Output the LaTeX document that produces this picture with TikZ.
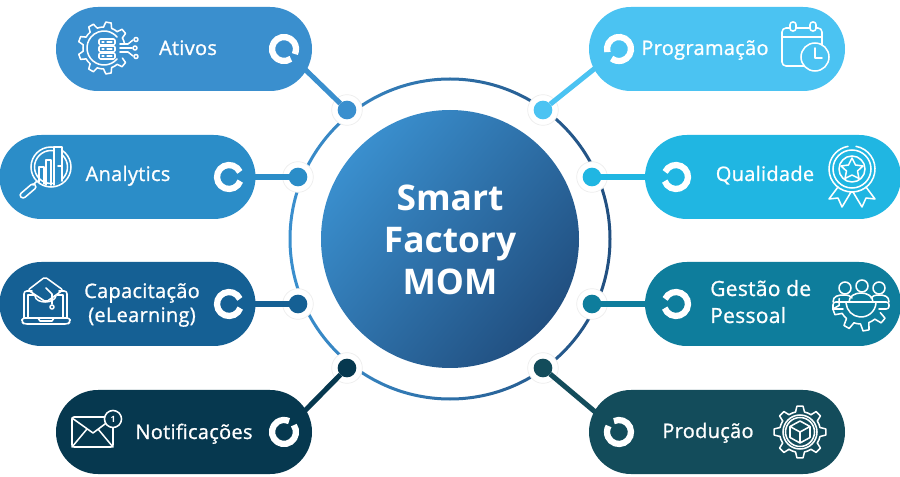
\documentclass[tikz,border=0pt]{standalone}
\usepackage{fontspec}
\setmainfont{Open Sans}
\newfontfamily\labelfont[FakeBold=1,LetterSpace=1.5]{Open Sans}
\pgfdeclarelayer{back}\pgfdeclarelayer{mid}
\pgfsetlayers{back,mid,main}
\definecolor{cAt}{HTML}{3A8FCE}\definecolor{cAn}{HTML}{2B8DC8}
\definecolor{cCa}{HTML}{156094}\definecolor{cNo}{HTML}{06384F}
\definecolor{cPr}{HTML}{4BC3F2}\definecolor{cQu}{HTML}{20B6E2}
\definecolor{cGe}{HTML}{0E7D9C}\definecolor{cPd}{HTML}{134C5B}
\definecolor{cDk}{HTML}{214F80}
\tikzset{
 pill/.style={rounded corners=31.5pt,minimum width=192pt,minimum height=63pt,inner sep=0pt,outer sep=0pt},
 lab/.style={text=white,inner sep=0pt,anchor=base,font=\labelfont\fontsize{15}{15}\selectfont},
 labw/.style={text=white,inner sep=0pt,anchor=base west,font=\labelfont\fontsize{15.7}{15.7}\selectfont},
 ttl/.style={text=white,inner sep=0pt,anchor=base,font=\bfseries\fontsize{26.5}{26.5}\selectfont},
 halo/.style={circle,fill=white,draw=black!7,line width=.5pt,minimum size=23pt,inner sep=0pt},
 dotn/.style={circle,minimum size=14pt,inner sep=0pt,outer sep=0pt},
 glyph/.style={circle,minimum size=9pt,inner sep=0pt},
 conn/.style={line width=3.8pt},
 icon/.style={draw=white,line width=1.15pt,line cap=round,line join=round},
 ringarc/.style={draw=white,line width=4.7pt}
}
% gear: cx cy R r teeth first last
\newcommand{\gearteeth}[7]{%
 \pgfmathsetmacro{\gs}{360/#5}%
 \foreach \gi in {#6,...,#7}{%
  \pgfmathsetmacro{\ga}{\gi*\gs}%
  \draw[icon,shift={(#1,#2)}] (\ga-.28*\gs:#4) -- (\ga-.15*\gs:#3) -- (\ga+.15*\gs:#3) -- (\ga+.28*\gs:#4) arc[start angle=\ga+.28*\gs,delta angle=.44*\gs,radius=#4];
 }}
\begin{document}
\begin{tikzpicture}[x=.75pt,y=-.75pt]
\useasboundingbox (0,0) rectangle (900,477);
% central disc
\shade[left color=cAt,right color=cDk,shading angle=50] (450,239) circle (129);
\node[ttl] (t1) at (450,211) {Smart};
\node[ttl] (t2) at (450,253) {Factory};
\node[ttl] (t3) at (450,295) {MOM};
% outer ring
\begin{pgfonlayer}{back}
\fill[white] (0,0) rectangle (900,477);
\shade[left color=cAt,right color=cDk,even odd rule] (450,239) circle (161.5) (450,239) circle (158.5);
\node[halo] (hAt) at (347,110) {};
\node[halo] (hAn) at (298,177) {};
\node[halo] (hCa) at (298,304) {};
\node[halo] (hNo) at (347,368) {};
\node[halo] (hPr) at (543,110) {};
\node[halo] (hQu) at (592,177) {};
\node[halo] (hGe) at (592,304) {};
\node[halo] (hPd) at (543,368) {};
\end{pgfonlayer}
% pills
\node[pill,fill=cAt] (pAt) at (184,49) {};
\node[pill,fill=cAn] (pAn) at (127.5,177) {};
\node[pill,fill=cCa] (pCa) at (127.5,304) {};
\node[pill,fill=cNo] (pNo) at (184,432) {};
\node[pill,fill=cPr] (pPr) at (717,49) {};
\node[pill,fill=cQu] (pQu) at (773,177) {};
\node[pill,fill=cGe] (pGe) at (773,304) {};
\node[pill,fill=cPd] (pPd) at (717,432) {};
% dots
\node[dotn,fill=cAt] (dAt) at (347,110) {};
\node[dotn,fill=cAn] (dAn) at (298,177) {};
\node[dotn,fill=cCa] (dCa) at (298,304) {};
\node[dotn,fill=cNo] (dNo) at (347,368) {};
\node[dotn,fill=cPr] (dPr) at (543,110) {};
\node[dotn,fill=cQu] (dQu) at (592,177) {};
\node[dotn,fill=cGe] (dGe) at (592,304) {};
\node[dotn,fill=cPd] (dPd) at (543,368) {};
% ring glyph anchors
\node[glyph] (gAt) at (284,49) {};
\node[glyph] (gAn) at (229,177) {};
\node[glyph] (gCa) at (229,304) {};
\node[glyph] (gNo) at (284,432) {};
\node[glyph] (gPr) at (619,49) {};
\node[glyph] (gQu) at (676,177) {};
\node[glyph] (gGe) at (676,304) {};
\node[glyph] (gPd) at (619,432) {};
\begin{pgfonlayer}{mid}
\draw[conn,cAt] (gAt) -- (dAt);
\draw[conn,cAn] (gAn) -- (dAn);
\draw[conn,cCa] (gCa) -- (dCa);
\draw[conn,cNo] (gNo) -- (dNo);
\draw[conn,cPr] (gPr) -- (dPr);
\draw[conn,cQu] (gQu) -- (dQu);
\draw[conn,cGe] (gGe) -- (dGe);
\draw[conn,cPd] (gPd) -- (dPd);
\end{pgfonlayer}
% ring glyphs: screen angles, clockwise
\draw[ringarc] ([shift={(284,49)}]55:12) arc[start angle=55,end angle=385,radius=12];
\draw[ringarc] ([shift={(229,177)}]20:12) arc[start angle=20,end angle=335,radius=12];
\draw[ringarc] ([shift={(229,304)}]20:12) arc[start angle=20,end angle=335,radius=12];
\draw[ringarc] ([shift={(284,432)}]-35:12) arc[start angle=-35,end angle=295,radius=12];
\draw[ringarc] ([shift={(619,49)}]-195:12) arc[start angle=-195,end angle=128,radius=12];
\draw[ringarc] ([shift={(676,177)}]-155:12) arc[start angle=-155,end angle=160,radius=12];
\draw[ringarc] ([shift={(676,304)}]-155:12) arc[start angle=-155,end angle=160,radius=12];
\draw[ringarc] ([shift={(619,432)}]-115:12) arc[start angle=-115,end angle=210,radius=12];
% labels
\node[lab] (lAt) at (188,55) {Ativos};
\node[lab] (lAn) at (128,181) {Analytics};
\node[lab] (lCa) at (142,298) {Capacitação};
\node[lab] (lCb) at (142,322) {(eLearning)};
\node[lab] (lNo) at (194,439) {Notificações};
\node[lab] (lPr) at (705,55) {Programação};
\node[lab] (lQu) at (765,181) {Qualidade};
\node[labw] (lGa) at (710,296) {Gestão de};
\node[labw] (lGb) at (710,323) {Pessoal};
\node[lab] (lPd) at (708,438) {Produção};
% --- icon Ativos
\gearteeth{104}{48}{26}{21}{9}{1}{8}
\draw[icon] ([shift={(104,48)}]40:17) arc[start angle=40,end angle=320,radius=17];
\foreach \yy in {39,46,53}{\draw[icon,rounded corners=1pt] (99,\yy) rectangle (115,\yy+6);
 \draw[icon,line width=.8pt] (102,\yy+3) -- (104,\yy+3) (107,\yy+3) -- (112,\yy+3);}
\draw[icon] (120,44) -- (128,44) -- (133,40) (120,48) -- (132,48) (120,52) -- (128,52) -- (133,56);
\draw[icon] (136,39.5) circle (2) (135,48) circle (2) (136,56.5) circle (2);
% --- icon Analytics
\draw[icon] (51,167) circle (20) (51,167) circle (16.5);
\draw[icon] (37,181) -- (33,185);
\draw[icon,rounded corners=2pt] (33,183) -- (37,187) -- (23,199) -- (19,195) -- cycle;
\draw[icon] (39,182) -- (39,167) -- (44,167) -- (44,184) (46,185) -- (46,160) -- (51,160) -- (51,185);
\draw[icon,fill=cAn] (54,185) -- (54,147) -- (62,147) -- (62,181);
\draw[icon] (58,166) -- (62,166);
% --- icon Capacitacao
\draw[icon,rounded corners=2pt] (24,318) -- (24,291) -- (32,291) (59,291) -- (67,291) -- (67,318);
\draw[icon] (28,318) -- (28,295) -- (35,295) (57,295) -- (63,295) -- (63,318);
\draw[icon,rounded corners=2pt] (22,318) -- (70,318) -- (70,322) -- (68,324) -- (24,324) -- (22,322) -- cycle;
\draw[icon] (38,318) -- (40,321) -- (52,321) -- (54,318);
\draw[icon,rounded corners=1.5pt] (28,290) -- (45,277) -- (63,290) -- (46,302) -- cycle;
\draw[icon] (35,296) .. controls (36,304) and (54,304) .. (56,296);
\draw[icon] (46,288) -- (52,294) -- (52,304);
\draw[icon] (52,307) circle (2);
% --- icon Notificacoes
\draw[icon,rounded corners=1.5pt] (72,417) rectangle (113,447);
\draw[icon] (72,418) -- (93,433) -- (113,418) (72,447) -- (87,429) (113,447) -- (98,429);
\node[circle,fill=cNo,draw=white,line width=1.15pt,minimum size=12.8pt,inner sep=0pt,text=white,font=\bfseries\fontsize{6.5}{6.5}\selectfont] (bNo) at (113,419) {1};
% --- icon Programacao
\draw[icon,rounded corners=3pt] (782,66) rectangle (822,28);
\draw[icon] (782,37) -- (822,37);
\draw[icon,rounded corners=2pt,fill=cPr] (790,22) rectangle (796,31);
\draw[icon,rounded corners=2pt,fill=cPr] (810,22) rectangle (816,31);
\node[circle,fill=cPr,draw=white,line width=1.15pt,minimum size=21pt,inner sep=0pt] (cPrC) at (815,57) {};
\draw[icon] (815,48) -- (815,58) -- (822,58);
% --- icon Qualidade
\draw[icon] ([shift={(852,169)}]-80:23) arc[start angle=-80,end angle=260,radius=23];
\draw[icon] (852,169) circle (19) (852,169) circle (13);
\draw[icon] (852,158) -- (855.5,165) -- (863,166) -- (857.5,171) -- (859,178.5) -- (852,175) -- (845,178.5) -- (846.5,171) -- (841,166) -- (848.5,165) -- cycle;
\draw[icon] (838,187) -- (829,199) -- (838,198) -- (842,207) -- (851,192) -- (853,192) -- (862,207) -- (866,198) -- (875,199) -- (866,187);
% --- icon Gestao
\draw[icon] (845,288) circle (6) (862,286) circle (6) (879,288) circle (6);
\draw[icon] (833,302) .. controls (833,296) and (838,295) .. (844,295) .. controls (848,295) and (851,296) .. (852,298);
\draw[icon] (889,302) .. controls (889,296) and (884,295) .. (879,295) .. controls (875,295) and (872,296) .. (871,298);
\draw[icon] (849,302) .. controls (849,296) and (855,293) .. (861,293) .. controls (867,293) and (873,296) .. (873,302);
\draw[icon,rounded corners=2pt] (833,309) -- (833,302) -- (889,302) -- (889,309) -- (879,309);
\draw[icon,rounded corners=2pt] (833,309) -- (843,309);
\gearteeth{861}{302}{29}{22}{9}{1}{4}
\draw[icon] ([shift={(861,302)}]5:15) arc[start angle=5,end angle=175,radius=15];
% --- icon Producao
\gearteeth{800}{432}{26}{20.5}{8}{0}{7}
\draw[icon] (800,432) circle (17) (800,432) circle (14.5);
\draw[icon] (800,421) -- (810,426.5) -- (810,437.5) -- (800,443) -- (790,437.5) -- (790,426.5) -- cycle (790,426.5) -- (800,432) -- (810,426.5) (800,432) -- (800,443);
\end{tikzpicture}
\end{document}
